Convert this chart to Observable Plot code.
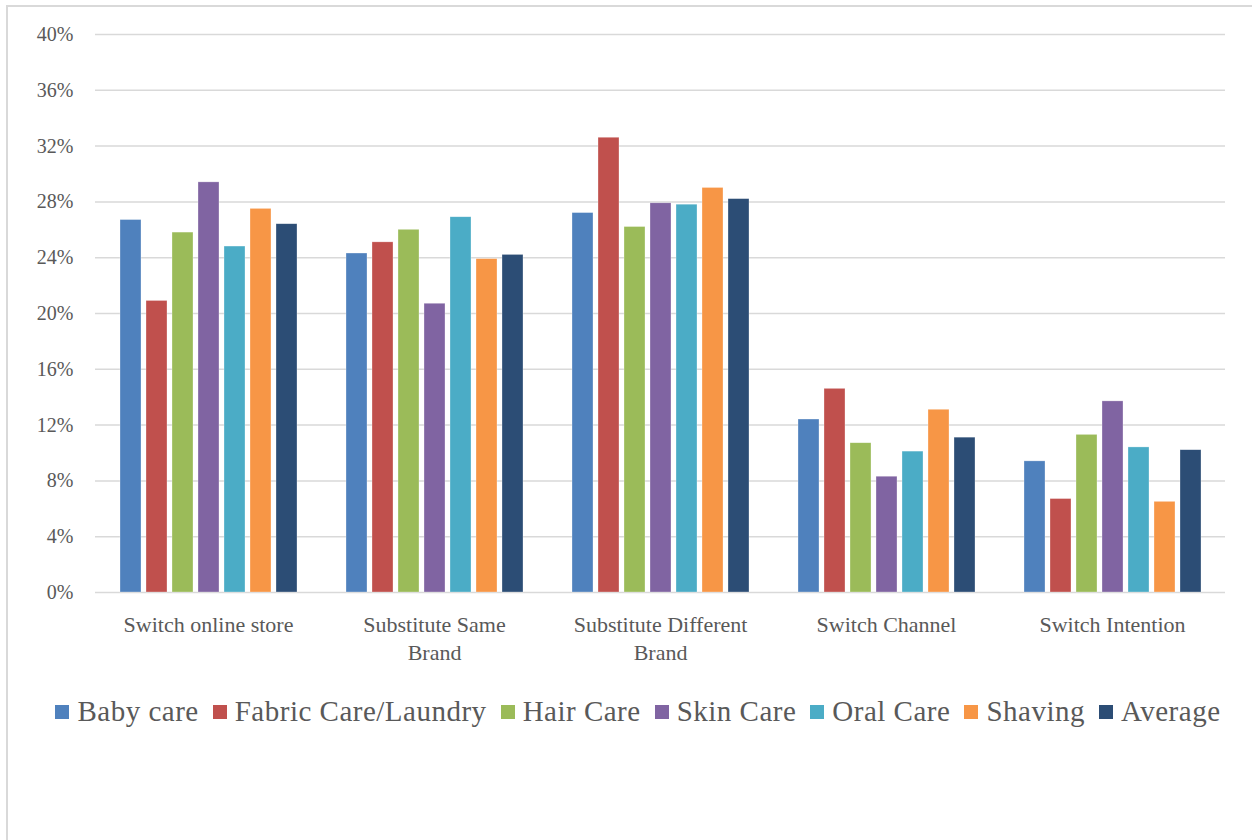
<!DOCTYPE html>
<html>
<head>
<meta charset="utf-8">
<script src="https://cdn.jsdelivr.net/npm/d3@7"></script>
<script src="https://cdn.jsdelivr.net/npm/@observablehq/plot@0.6"></script>
<style>
  html, body { margin: 0; padding: 0; background: #ffffff; overflow: hidden; }
  #wrap { position: relative; width: 1252px; height: 840px; font-family: "Liberation Serif", serif; }
  #frame { position: absolute; left: 6px; top: 5px; width: 1300px; height: 900px;
           border-left: 2px solid #d9d9d9; border-top: 2px solid #d9d9d9; box-sizing: border-box; }
  #chart { position: absolute; left: 0; top: 0; }
  #legend { position: absolute; left: 24px; width: 1228px; top: 695px; display: flex;
            justify-content: center; align-items: center; font-size: 29px; letter-spacing: 0.5px; color: #595959; }
  .item { display: flex; align-items: center; margin: 0 7px; }
  .sw { width: 14px; height: 14px; margin-right: 8px; }
</style>
</head>
<body>
<div id="wrap">
  <div id="frame"></div>
  <div id="chart"></div>
  <div id="legend"></div>
</div>
<script>
const categories = ["Switch online store", "Substitute Same Brand", "Substitute Different Brand", "Switch Channel", "Switch Intention"];
const categoryLabels = ["Switch online store", "Substitute Same\nBrand", "Substitute Different\nBrand", "Switch Channel", "Switch Intention"];
const series = ["Baby care", "Fabric Care/Laundry", "Hair Care", "Skin Care", "Oral Care", "Shaving", "Average"];
const colors = ["#4f81bd", "#c0504d", "#9bbb59", "#8064a2", "#4bacc6", "#f79646", "#2c4d75"];

const babyCare   = [26.7, 24.3, 27.2, 12.4, 9.4];
const fabricCare = [20.9, 25.1, 32.6, 14.6, 6.7];
const hairCare   = [25.8, 26.0, 26.2, 10.7, 11.3];
const skinCare   = [29.4, 20.7, 27.9, 8.3, 13.7];
const oralCare   = [24.8, 26.9, 27.8, 10.1, 10.4];
const shaving    = [27.5, 23.9, 29.0, 13.1, 6.5];
const average    = [26.4, 24.2, 28.2, 11.1, 10.2];
const yTicks = [0, 4, 8, 12, 16, 20, 24, 28, 32, 36, 40];

const seriesValues = [babyCare, fabricCare, hairCare, skinCare, oralCare, shaving, average];
const data = [];
categories.forEach((c, ci) => {
  series.forEach((s, si) => {
    data.push({category: c, series: s, value: seriesValues[si][ci]});
  });
});

const chart = Plot.plot({
  width: 1252,
  height: 690,
  marginLeft: 94,
  marginRight: 27,
  marginTop: 34,
  marginBottom: 98,
  style: {fontFamily: "Liberation Serif", background: "transparent", overflow: "visible"},
  fx: {domain: categories, padding: 0, label: null, axis: null},
  x: {domain: series, paddingInner: 0.2, paddingOuter: 0.85, axis: null},
  y: {domain: [0, 40], axis: null},
  color: {domain: series, range: colors},
  marks: [
    Plot.ruleY(yTicks, {stroke: "#d9d9d9", strokeWidth: 1.5}),
    Plot.barY(data, {fx: "category", x: "series", y: "value", fill: "series", stroke: "#ffffff", strokeOpacity: 0.5, strokeWidth: 0.6}),
    Plot.axisY({ticks: yTicks, tickSize: 0, tickPadding: 22, tickFormat: d => d + "%", fontSize: 20, fill: "#595959", label: null}),
    Plot.axisFx({anchor: "bottom", tickSize: 0, tickPadding: 19, tickFormat: d => categoryLabels[categories.indexOf(d)], fontSize: 22, lineHeight: 1.28, fill: "#595959", label: null})
  ]
});
document.getElementById("chart").appendChild(chart);

const legend = document.getElementById("legend");
series.forEach((s, i) => {
  const item = document.createElement("div");
  item.className = "item";
  const sw = document.createElement("span");
  sw.className = "sw";
  sw.style.background = colors[i];
  const t = document.createElement("span");
  t.textContent = s;
  item.appendChild(sw);
  item.appendChild(t);
  legend.appendChild(item);
});
</script>
</body>
</html>
